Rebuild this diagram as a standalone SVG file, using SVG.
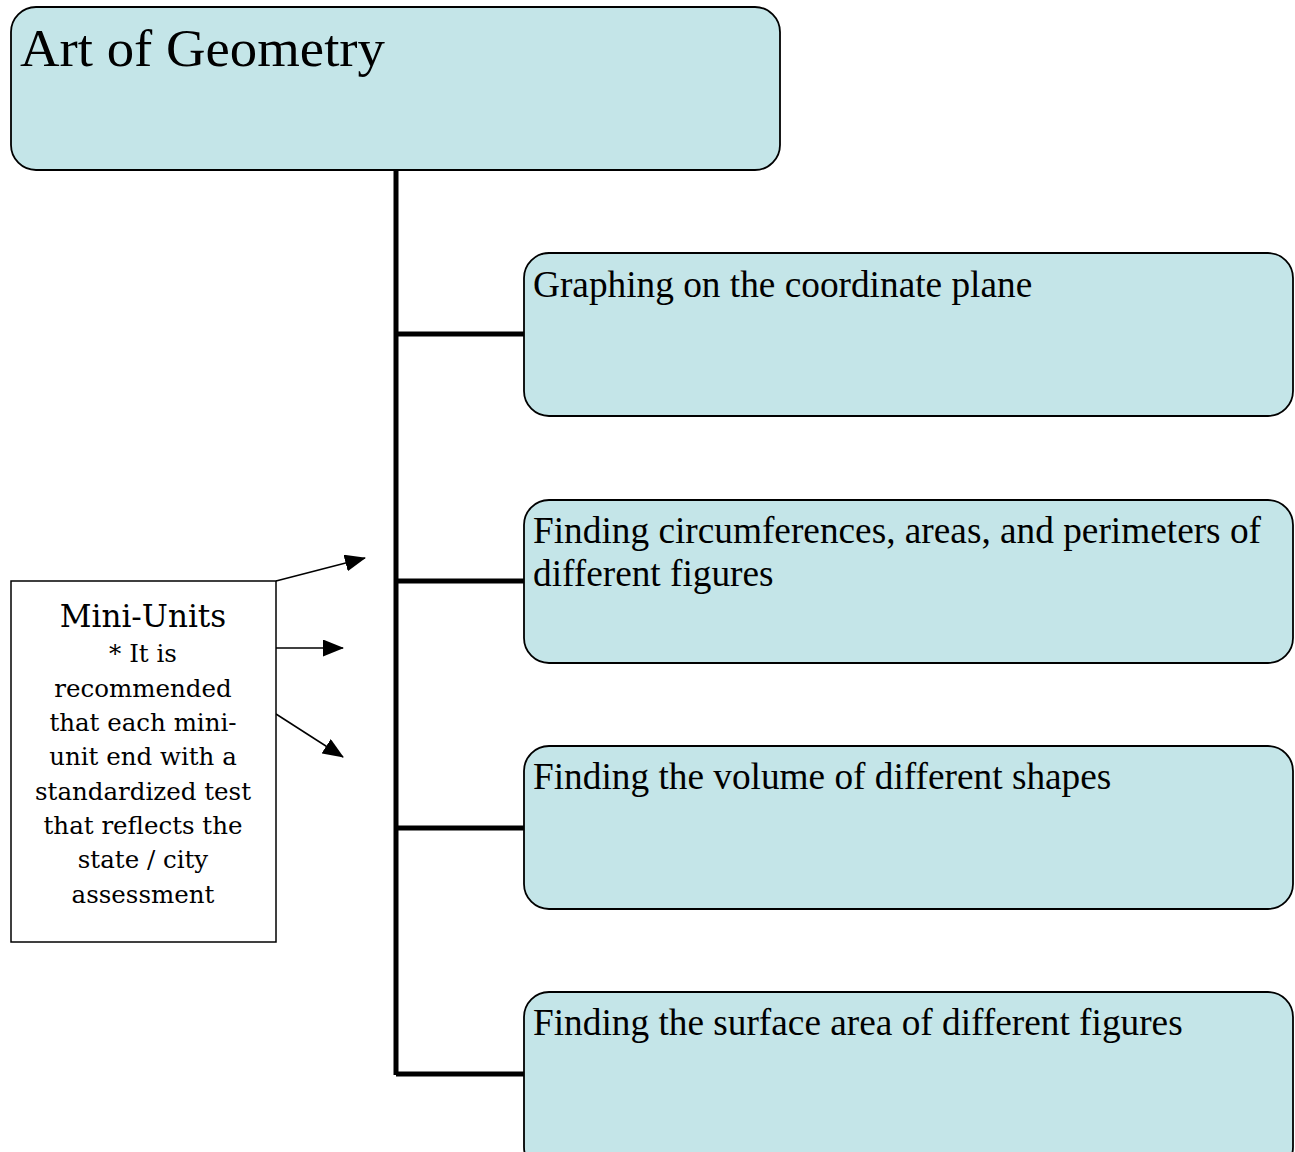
<svg xmlns="http://www.w3.org/2000/svg" width="1295" height="1152" viewBox="0 0 1295 1152">
<defs>
<style>
.box{fill:#c4e5e8;stroke:#000;stroke-width:1.8}
.t{font-family:"Liberation Serif",serif;font-size:37.3px;fill:#000}
.m{font-family:"DejaVu Serif","Liberation Serif",serif;fill:#000;text-anchor:middle}
.trunk{stroke:#000;stroke-width:5;fill:none}
.arr{stroke:#000;stroke-width:1.5;fill:none;marker-end:url(#ah)}
</style>
<marker id="ah" markerWidth="21" markerHeight="17" refX="20" refY="8.5" orient="auto" markerUnits="userSpaceOnUse">
<path d="M0,0 L21,8.5 L0,17 z" fill="#000"/>
</marker>
</defs>
<rect width="1295" height="1152" fill="#fff"/>
<g id="connectors">
<path class="trunk" d="M396,170 V1075 M396,334 H524 M396,581 H524 M396,828 H524 M396,1074 H524"/>
<path class="arr" d="M276,581 L365,558"/>
<path class="arr" d="M276,648 L343,648"/>
<path class="arr" d="M276,714 L343,757"/>
</g>
<g id="root">
<rect class="box" x="11" y="7" width="769" height="163" rx="25"/>
<text x="20" y="66" font-family="Liberation Serif,serif" font-size="52" textLength="365" lengthAdjust="spacingAndGlyphs">Art of Geometry</text>
</g>
<g id="n1">
<rect class="box" x="524" y="253" width="769" height="163" rx="25"/>
<text class="t" x="533" y="297">Graphing on the coordinate plane</text>
</g>
<g id="n2">
<rect class="box" x="524" y="500" width="769" height="163" rx="25"/>
<text class="t" x="533" y="543">Finding circumferences, areas, and perimeters of</text>
<text class="t" x="533" y="586">different figures</text>
</g>
<g id="n3">
<rect class="box" x="524" y="746" width="769" height="163" rx="25"/>
<text class="t" x="533" y="789">Finding the volume of different shapes</text>
</g>
<g id="n4">
<rect class="box" x="524" y="992" width="769" height="180" rx="25"/>
<text class="t" x="533" y="1035">Finding the surface area of different figures</text>
</g>
<g id="mini">
<rect x="11" y="581" width="265" height="361" fill="#fff" stroke="#000" stroke-width="1.5"/>
<text class="m" x="143" y="627" font-size="31">Mini-Units</text>
<g font-size="24.5">
<text class="m" x="143" y="662">* It is</text>
<text class="m" x="143" y="697">recommended</text>
<text class="m" x="143" y="731">that each mini-</text>
<text class="m" x="143" y="765">unit end with a</text>
<text class="m" x="143" y="800">standardized test</text>
<text class="m" x="143" y="834">that reflects the</text>
<text class="m" x="143" y="868">state / city</text>
<text class="m" x="143" y="903">assessment</text>
</g>
</g>
</svg>
